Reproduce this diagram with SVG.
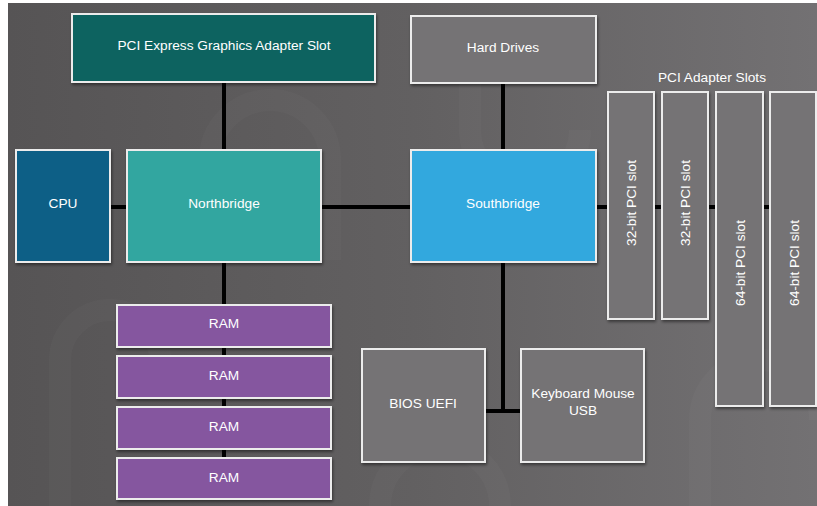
<svg xmlns="http://www.w3.org/2000/svg" width="817" height="506" viewBox="0 0 817 506">
<defs>
<linearGradient id="bg" x1="0" y1="0" x2="1" y2="0">
<stop offset="0" stop-color="#565455"/>
<stop offset="0.5" stop-color="#626061"/>
<stop offset="1" stop-color="#737173"/>
</linearGradient>
<filter id="sh" x="-10%" y="-10%" width="130%" height="130%">
<feDropShadow dx="1" dy="2" stdDeviation="1.5" flood-color="#000" flood-opacity="0.45"/>
</filter>
<style>
.box{stroke:#ececec;stroke-width:2;filter:url(#sh)}
.teal{fill:#0f6360}
.cpu{fill:#0e5f86}
.nb{fill:#31a6a0}
.sb{fill:#30a8de}
.ram{fill:#85569f}
.grey{fill:#757374}
.t{font-family:"Liberation Sans",Arial,sans-serif;font-size:13.7px;fill:#ffffff;text-anchor:middle;dominant-baseline:central}
.wire{stroke:#000;stroke-width:4;fill:none}
</style>
</defs>
<rect x="0" y="0" width="817" height="506" fill="#ffffff"/>
<rect x="8" y="3" width="809" height="503" fill="url(#bg)"/>
<g fill="none" stroke="#ffffff" stroke-opacity="0.022" stroke-width="22">
<path d="M60 506 V360 a50 50 0 0 1 100 0"/>
<path d="M210 160 a60 60 0 0 1 120 0 V260"/>
<path d="M470 30 V130 a55 55 0 0 0 110 0"/>
<path d="M700 506 V420 a60 60 0 0 1 120 0"/>
<path d="M380 506 a60 60 0 0 1 120 0"/>
</g>
<g id="connectors" class="wire">
<line x1="224" y1="82" x2="224" y2="150"/>
<line x1="110" y1="207" x2="127" y2="207"/>
<line x1="321" y1="207" x2="411" y2="207"/>
<line x1="503" y1="83" x2="503" y2="150"/>
<line x1="596" y1="207" x2="608" y2="207"/>
<line x1="654" y1="207" x2="662" y2="207"/>
<line x1="708" y1="207" x2="716" y2="207"/>
<line x1="763" y1="207" x2="770" y2="207"/>
<line x1="224" y1="262" x2="224" y2="305"/>
<line x1="224" y1="347" x2="224" y2="356"/>
<line x1="224" y1="398" x2="224" y2="407"/>
<line x1="224" y1="449" x2="224" y2="458"/>
<line x1="503" y1="262" x2="503" y2="411"/>
<line x1="485" y1="411" x2="521" y2="411"/>
</g>
<g id="pcie"><rect class="box teal" x="72" y="14" width="303" height="68"/><text class="t" x="224" y="45">PCI Express Graphics Adapter Slot</text></g>
<g id="cpu"><rect class="box cpu" x="16" y="150" width="94" height="112"/><text class="t" x="63" y="203">CPU</text></g>
<g id="northbridge"><rect class="box nb" x="127" y="150" width="194" height="112"/><text class="t" x="224" y="203">Northbridge</text></g>
<g id="harddrives"><rect class="box grey" x="411" y="16" width="185" height="67"/><text class="t" x="503" y="47">Hard Drives</text></g>
<g id="southbridge"><rect class="box sb" x="411" y="150" width="185" height="112"/><text class="t" x="503" y="203">Southbridge</text></g>
<g id="pci-label"><text class="t" x="712" y="77">PCI Adapter Slots</text></g>
<g id="slot1"><rect class="box grey" x="608" y="92" width="46" height="227"/><text class="t" transform="translate(631 203) rotate(-90)">32-bit PCI slot</text></g>
<g id="slot2"><rect class="box grey" x="662" y="92" width="46" height="227"/><text class="t" transform="translate(685 203) rotate(-90)">32-bit PCI slot</text></g>
<g id="slot3"><rect class="box grey" x="716" y="92" width="47" height="314"/><text class="t" transform="translate(740 263) rotate(-90)">64-bit PCI slot</text></g>
<g id="slot4"><rect class="box grey" x="770" y="92" width="46" height="314"/><text class="t" transform="translate(794 263) rotate(-90)">64-bit PCI slot</text></g>
<g id="ram1"><rect class="box ram" x="117" y="305" width="214" height="42"/><text class="t" x="224" y="323">RAM</text></g>
<g id="ram2"><rect class="box ram" x="117" y="356" width="214" height="42"/><text class="t" x="224" y="375">RAM</text></g>
<g id="ram3"><rect class="box ram" x="117" y="407" width="214" height="42"/><text class="t" x="224" y="426">RAM</text></g>
<g id="ram4"><rect class="box ram" x="117" y="458" width="214" height="41"/><text class="t" x="224" y="477">RAM</text></g>
<g id="bios"><rect class="box grey" x="362" y="349" width="123" height="113"/><text class="t" x="423" y="403">BIOS UEFI</text></g>
<g id="keyboard"><rect class="box grey" x="521" y="349" width="123" height="113"/><text class="t" x="583" y="393">Keyboard Mouse</text><text class="t" x="583" y="410">USB</text></g>
</svg>
